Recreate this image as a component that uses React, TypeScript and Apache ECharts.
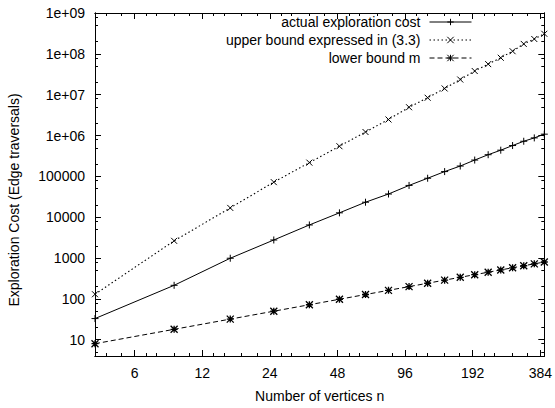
import React, { useEffect, useRef } from "react";
import * as echarts from "echarts";

// Number of vertices n (x values)
const nValues = [4, 9, 16, 25, 36, 49, 64, 81, 100, 121, 144, 169, 196, 225, 256, 289, 324, 361, 400];

// Series values
const actualCost = [33, 215, 990, 2770, 6460, 12800, 23300, 37000, 60000, 90000, 131000, 179000, 251000, 339000, 438000, 569000, 724000, 875000, 1080000];
const upperBound = [130, 2640, 16900, 72300, 217000, 547000, 1220000, 2470000, 4930000, 8420000, 14200000, 23500000, 38000000, 56100000, 80200000, 116000000, 175000000, 231000000, 310000000];
const lowerBound = [8, 18, 32, 50, 72, 98, 128, 162, 200, 242, 288, 338, 392, 450, 512, 578, 648, 722, 800];

// Tick values
const xMajorTicks = [6, 12, 24, 48, 96, 192, 384];
const xMinorTicks = [4.5, 5.25, 6.75, 7.5, 9, 10.5, 13.5, 15, 18, 21, 27, 30, 36, 42, 54, 60, 72, 84, 108, 120, 144, 168, 216, 240, 288, 336];
const yMajorTicks = [10, 100, 1000, 10000, 100000, 1e6, 1e7, 1e8, 1e9];
const yMinorTicks = [5, 8, 20, 50, 80, 200, 500, 800, 2000, 5000, 8000, 2e4, 5e4, 8e4, 2e5, 5e5, 8e5, 2e6, 5e6, 8e6, 2e7, 5e7, 8e7, 2e8, 5e8, 8e8];

const seriesNames = ["actual exploration cost", "upper bound expressed in (3.3)", "lower bound m"];

const FONT = "Liberation Sans, Arial, Helvetica, sans-serif";

const PLUS = "path://M0,4L8,4M4,0L4,8";
const CROSS = "path://M0,0L8,8M8,0L0,8";
const STAR = "path://M0,4L8,4M4,0L4,8M0,0L8,8M8,0L0,8";

function yLabel(v: number): string {
  if (v >= 1e6) {
    const e = Math.round(Math.log10(v));
    return "1e+" + (e < 10 ? "0" + e : String(e));
  }
  return String(Math.round(v));
}

export default function App() {
  const ref = useRef<HTMLDivElement>(null);

  useEffect(() => {
    if (!ref.current) return;
    const chart = echarts.init(ref.current, null, { renderer: "svg" });

    const xBase = {
      type: "log" as const,
      min: 4,
      max: 400,
      splitLine: { show: false },
      axisLine: { show: true, onZero: false, lineStyle: { color: "#000", width: 1 } },
    };
    const yBase = {
      type: "log" as const,
      min: 4,
      max: 1e9,
      splitLine: { show: false },
      axisLine: { show: true, onZero: false, lineStyle: { color: "#000", width: 1 } },
    };

    const mkData = (vals: number[]) => nValues.map((n, i) => [n, vals[i]]);

    chart.setOption({
      animation: false,
      backgroundColor: "#fff",
      textStyle: { fontFamily: FONT },
      grid: { left: 95, right: 8, top: 13, bottom: 48, containLabel: false },
      legend: {
        orient: "vertical",
        align: "right",
        right: 83,
        top: 15,
        padding: 0,
        itemWidth: 42,
        itemHeight: 8,
        itemGap: 4,
        textStyle: { fontSize: 14, color: "#000", fontFamily: FONT, padding: [0, 4, 0, 0] },
        lineStyle: { width: 1 },
        itemStyle: { borderWidth: 1 },
        data: seriesNames,
      },
      xAxis: [
        {
          ...xBase,
          position: "bottom",
          name: "Number of vertices n",
          nameLocation: "middle",
          nameGap: 33,
          nameTextStyle: { fontSize: 14, color: "#000", fontFamily: FONT },
          axisTick: { show: true, inside: true, length: 6, customValues: xMajorTicks, lineStyle: { color: "#000" } },
          axisLabel: {
            show: true,
            customValues: xMajorTicks,
            margin: 10,
            fontSize: 14,
            color: "#000",
            fontFamily: FONT,
            formatter: (v: number) => String(Math.round(v)),
          },
        },
        {
          ...xBase,
          position: "bottom",
          axisTick: { show: true, inside: true, length: 3, customValues: xMinorTicks, lineStyle: { color: "#000" } },
          axisLabel: { show: false },
        },
        {
          ...xBase,
          position: "top",
          axisTick: { show: true, inside: true, length: 6, customValues: xMajorTicks, lineStyle: { color: "#000" } },
          axisLabel: { show: false },
        },
        {
          ...xBase,
          position: "top",
          axisTick: { show: true, inside: true, length: 3, customValues: xMinorTicks, lineStyle: { color: "#000" } },
          axisLabel: { show: false },
        },
      ],
      yAxis: [
        {
          ...yBase,
          position: "left",
          axisTick: { show: true, inside: true, length: 6, customValues: yMajorTicks, lineStyle: { color: "#000" } },
          axisLabel: {
            show: true,
            customValues: yMajorTicks,
            margin: 10,
            fontSize: 14,
            color: "#000",
            fontFamily: FONT,
            formatter: (v: number) => yLabel(v),
          },
        },
        {
          ...yBase,
          position: "left",
          axisTick: { show: true, inside: true, length: 3, customValues: yMinorTicks, lineStyle: { color: "#000" } },
          axisLabel: { show: false },
        },
        {
          ...yBase,
          position: "right",
          axisTick: { show: true, inside: true, length: 6, customValues: yMajorTicks, lineStyle: { color: "#000" } },
          axisLabel: { show: false },
        },
        {
          ...yBase,
          position: "right",
          axisTick: { show: true, inside: true, length: 3, customValues: yMinorTicks, lineStyle: { color: "#000" } },
          axisLabel: { show: false },
        },
      ],
      graphic: [
        {
          type: "text",
          x: 14,
          y: 200,
          rotation: Math.PI / 2,
          style: {
            text: "Exploration Cost (Edge traversals)",
            fontSize: 14,
            fontFamily: FONT,
            fill: "#000",
            textAlign: "center",
            textVerticalAlign: "middle",
          },
        },
      ],
      series: [
        {
          name: seriesNames[0],
          type: "line",
          xAxisIndex: 0,
          yAxisIndex: 0,
          data: mkData(actualCost),
          symbol: PLUS,
          symbolSize: 7,
          showSymbol: true,
          lineStyle: { color: "#000", width: 1, type: "solid" },
          itemStyle: { color: "#000", borderColor: "#000", borderWidth: 1 },
        },
        {
          name: seriesNames[1],
          type: "line",
          xAxisIndex: 0,
          yAxisIndex: 0,
          data: mkData(upperBound),
          symbol: CROSS,
          symbolSize: 6,
          showSymbol: true,
          lineStyle: { color: "#000", width: 1.1, type: [1.5, 2.5] },
          itemStyle: { color: "#000", borderColor: "#000", borderWidth: 1 },
        },
        {
          name: seriesNames[2],
          type: "line",
          xAxisIndex: 0,
          yAxisIndex: 0,
          data: mkData(lowerBound),
          symbol: STAR,
          symbolSize: 7,
          showSymbol: true,
          lineStyle: { color: "#000", width: 1, type: [5, 3] },
          itemStyle: { color: "#000", borderColor: "#000", borderWidth: 1.3 },
        },
      ],
    });

    return () => chart.dispose();
  }, []);

  return (
    <div
      ref={ref}
      style={{ position: "fixed", left: 0, top: 0, width: 555, height: 408, background: "#fff" }}
    />
  );
}
